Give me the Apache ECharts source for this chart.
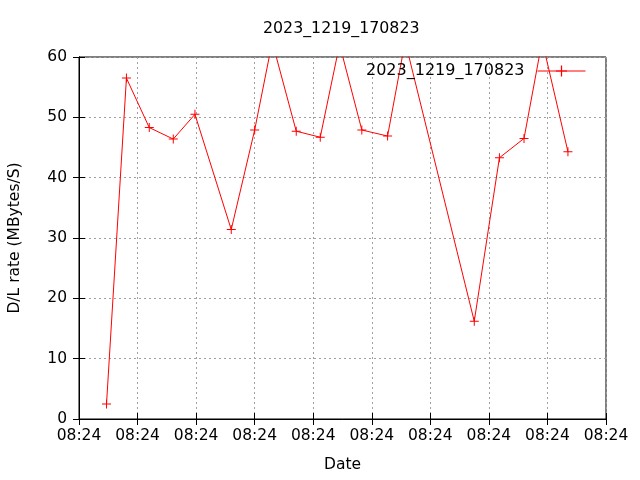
<!DOCTYPE html>
<html><head><meta charset="utf-8">
<script src="https://cdn.jsdelivr.net/npm/echarts@6/dist/echarts.min.js"></script>
<style>html,body{margin:0;padding:0;background:#fff}#c{width:640px;height:480px}</style>
</head><body><div id="c"></div>
<script>
const titleText = "2023_1219_170823";
const seriesName = "2023_1219_170823";
const xTickLabel = "08:24";
const xPos = [0.47, 0.81, 1.20, 1.61, 1.98, 2.60, 3.00, 3.30, 3.71, 4.12, 4.45, 4.83, 5.27, 5.57, 6.75, 7.18, 7.60, 7.91, 8.35];
const rate = [2.5, 56.5, 48.3, 46.4, 50.5, 31.4, 47.9, 62.5, 47.7, 46.7, 62.1, 47.9, 46.9, 62.6, 16.2, 43.3, 46.5, 62.7, 44.3];
const yTicks = [0, 10, 20, 30, 40, 50, 60];

const FONT = 'DejaVu Sans';
const plus = 'path://M4,0h1v4h4v1h-4v4h-1v-4h-4v-1h4z';
const chart = echarts.init(document.getElementById('c'), null, {renderer: 'canvas'});
const grid = {left: 79, right: 34, top: 57, bottom: 61, show: true, borderColor: '#000', borderWidth: 1,
  backgroundColor: 'transparent', containLabel: false, outerBoundsMode: 'none'};
const splitDash = {show: true, lineStyle: {color: '#a0a0a0', type: [2, 3], width: 1}};
chart.setOption({
  animation: false,
  backgroundColor: '#fff',
  title: {text: titleText, left: 258, top: 16, textStyle: {fontFamily: FONT, fontSize: 15.8, fontWeight: 'normal', color: '#000'}},
  legend: {
    right: 49, top: 58, align: 'right', itemWidth: 48, itemHeight: 14, itemGap: 0,
    lineStyle: {width: 1},
    textStyle: {fontFamily: FONT, fontSize: 16, color: '#000', padding: [0, 8, 0, 0]},
    data: [seriesName]
  },
  grid: grid,
  xAxis: [{
    type: 'value', min: 0, max: 9, interval: 1,
    name: 'Date', nameLocation: 'middle', nameGap: 38,
    nameTextStyle: {fontFamily: FONT, fontSize: 15.5, color: '#000'},
    axisLine: {show: true, lineStyle: {color: '#000'}},
    axisTick: {show: true, inside: true, length: 6, lineStyle: {color: '#000'}},
    axisLabel: {formatter: () => xTickLabel, fontFamily: FONT, fontSize: 15.5, color: '#000', margin: 9, showMinLabel: true, showMaxLabel: true},
    splitLine: splitDash
  }, {
    type: 'value', min: 0, max: 9, interval: 1, position: 'top',
    axisLine: {show: true, lineStyle: {color: '#000'}},
    axisTick: {show: true, inside: true, length: 6, lineStyle: {color: '#000'}},
    axisLabel: {show: false}, splitLine: {show: false}
  }],
  yAxis: [{
    type: 'value', min: 0, max: 60, interval: 10,
    name: 'D/L rate (MBytes/S)', nameLocation: 'middle', nameGap: 56,
    nameTextStyle: {fontFamily: FONT, fontSize: 15.5, color: '#000'},
    axisLine: {show: true, lineStyle: {color: '#000'}},
    axisTick: {show: true, inside: true, length: 6, lineStyle: {color: '#000'}},
    axisLabel: {formatter: v => yTicks.includes(v) ? String(v) : '', fontFamily: FONT, fontSize: 15.5, color: '#000', margin: 12},
    splitLine: splitDash
  }, {
    type: 'value', min: 0, max: 60, interval: 10, position: 'right',
    axisLine: {show: true, lineStyle: {color: '#000'}},
    axisTick: {show: true, inside: true, length: 6, lineStyle: {color: '#000'}},
    axisLabel: {show: false}, splitLine: {show: false}
  }],
  series: [{
    name: seriesName, type: 'line', clip: true,
    data: xPos.map((x, i) => [x, rate[i]]),
    symbol: plus, symbolSize: 9, showSymbol: true,
    lineStyle: {color: '#ff0000', width: 1},
    itemStyle: {color: '#ff0000', borderWidth: 0},
    emphasis: {disabled: true}
  }]
});
</script></body></html>
